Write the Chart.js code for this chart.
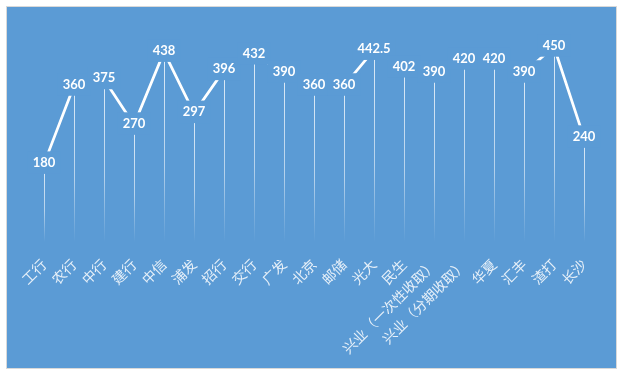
<!DOCTYPE html>
<html>
<head>
<meta charset="utf-8">
<script src="https://cdn.jsdelivr.net/npm/chart.js@4"></script>
<style>
  html, body { margin: 0; padding: 0; background: #fff; }
  #wrap { width: 622px; height: 374px; position: relative; }
</style>
</head>
<body>
<div id="wrap"><canvas id="feeChart"></canvas></div>
<script>
const banks = ['工行', '农行', '中行', '建行', '中信', '浦发', '招行', '交行', '广发', '北京', '邮储', '光大', '民生',
    '兴业（一次性收取）', '兴业（分期收取）', '华夏', '汇丰', '渣打', '长沙'];
const fees = [180, 360, 375, 270, 438, 297, 396, 432, 390, 360, 360, 442.5, 402, 390, 420, 420, 390, 450, 240];
const yMin = 0, yMax = 500;

const BG = '#5B9BD5';

// panel background + border
const panelBg = {
    id: 'panelBg',
    beforeDraw(chart) {
        const ctx = chart.ctx;
        ctx.save();
        ctx.fillStyle = '#fff';
        ctx.fillRect(0, 0, chart.width, chart.height);
        ctx.fillStyle = BG;
        ctx.fillRect(6.5, 6.5, 610, 362);
        ctx.strokeStyle = '#D9D9D9';
        ctx.lineWidth = 1;
        ctx.strokeRect(6.5, 6.5, 610, 362);
        ctx.restore();
    }
};

// fading drop lines from each point to the axis
const dropLines = {
    id: 'dropLines',
    beforeDatasetsDraw(chart) {
        const ctx = chart.ctx;
        const base = chart.scales.y.getPixelForValue(0);
        const pts = chart.getDatasetMeta(0).data;
        ctx.save();
        ctx.lineWidth = 1;
        pts.forEach(p => {
            const x = Math.round(p.x) + 0.5;
            const g = ctx.createLinearGradient(0, p.y, 0, base);
            g.addColorStop(0, 'rgba(255,255,255,0.8)');
            g.addColorStop(0.6, 'rgba(255,255,255,0.55)');
            g.addColorStop(1, 'rgba(255,255,255,0)');
            ctx.strokeStyle = g;
            ctx.beginPath();
            ctx.moveTo(x, p.y);
            ctx.lineTo(x, base);
            ctx.stroke();
        });
        ctx.restore();
    }
};

// value labels with filled boxes that hide the line underneath
const valueLabels = {
    id: 'valueLabels',
    afterDatasetsDraw(chart) {
        const ctx = chart.ctx;
        const pts = chart.getDatasetMeta(0).data;
        ctx.save();
        ctx.font = 'bold 13px Lato, "Open Sans", sans-serif';
        ctx.textAlign = 'center';
        ctx.textBaseline = 'middle';
        pts.forEach((p, i) => {
            const txt = String(fees[i]);
            const w = ctx.measureText(txt).width;
            ctx.fillStyle = BG;
            ctx.fillRect(p.x - w / 2 - 5, p.y - 12.5, w + 10, 22.5);
            ctx.fillStyle = '#fff';
            ctx.fillText(txt, p.x, p.y - 1);
        });
        ctx.restore();
    }
};

new Chart(document.getElementById('feeChart').getContext('2d'), {
    type: 'line',
    data: {
        labels: banks,
        datasets: [{
            data: fees,
            borderColor: '#fff',
            borderWidth: 2.75,
            tension: 0,
            pointRadius: 0,
            fill: false
        }]
    },
    options: {
        responsive: true, maintainAspectRatio: false, animation: false,
        layout: { padding: { left: 29, right: 23, top: 25, bottom: 0 } },
        scales: {
            x: {
                offset: true,
                grid: { display: false },
                border: { display: false },
                ticks: {
                    autoSkip: false, minRotation: 45, maxRotation: 45, padding: 6,
                    color: 'rgba(255,255,255,0.85)',
                    font: { family: '"Noto Sans CJK SC", sans-serif', size: 14 }
                },
                afterFit(s) { s.height = 132; s.paddingLeft = 0; s.paddingRight = 0; }
            },
            y: { display: false, min: yMin, max: yMax }
        },
        plugins: { legend: { display: false }, tooltip: { enabled: false } }
    },
    plugins: [panelBg, dropLines, valueLabels]
});
</script>
</body>
</html>
